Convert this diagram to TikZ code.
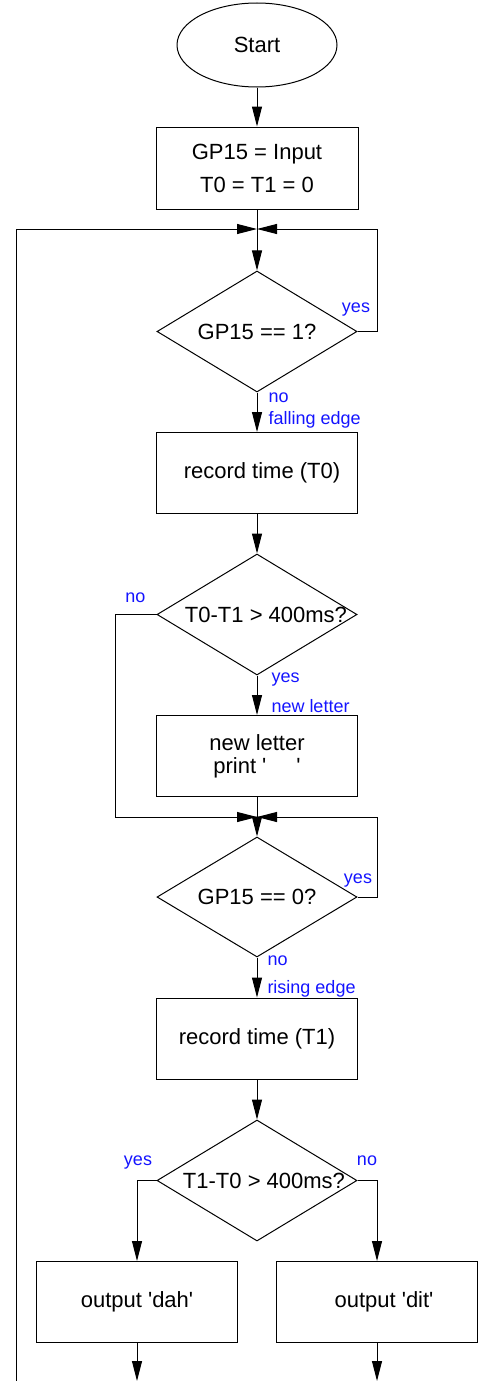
\documentclass[tikz,border=0pt]{standalone}
\usepackage{fontspec}
\setmainfont{Liberation Sans}[Ligatures=TeXOff]
\usetikzlibrary{shapes.geometric,arrows.meta}
\definecolor{lblue}{RGB}{20,20,255}
\begin{document}
\begin{tikzpicture}[x=1pt,y=-1pt,
  line width=1pt,
  font=\fontsize{22}{26}\selectfont,
  proc/.style={draw, rectangle, minimum width=201pt, minimum height=81pt, inner sep=0pt, align=center},
  dec/.style={draw, diamond, minimum width=200pt, minimum height=121pt, inner sep=0pt, aspect=1.65},
  lbl/.style={text=lblue, font=\fontsize{18}{20}\selectfont, inner sep=0pt},
  arr/.style={-{Triangle[length=20pt,width=10pt]}},
]
\useasboundingbox (0,0) rectangle (487,1381);

% nodes
\node[draw, ellipse, minimum width=160pt, minimum height=84pt, inner sep=0pt] (start) at (257,45) {Start};
\node[proc, minimum width=202pt, minimum height=82pt] (init) at (257,168) {GP15 = Input\\[7pt]T0 = T1 = 0};
\coordinate (j1) at (257,229);
\node[dec] (d1) at (257,331.5) {GP15 == 1?};
\node[proc] (rec0) at (257,473) {\hspace*{10pt}record time (T0)};
\node[dec, label={[xshift=9pt]center:T0-T1 > 400ms?}] (d2) at (257,614.5) {};
\node[proc] (nl) at (257,756) {new letter\\[-3pt]print '\hspace{30pt}'};
\coordinate (j2) at (257,817);
\node[dec, minimum height=120pt] (d3) at (257,897) {GP15 == 0?};
\node[proc] (rec1) at (257,1038.5) {record time (T1)};
\node[dec, label={[xshift=7pt]center:T1-T0 > 400ms?}] (d4) at (257,1180.5) {};
\node[proc] (dah) at (137,1302) {output 'dah'};
\node[proc] (dit) at (377,1302) {\hspace*{14pt}output 'dit'};
\coordinate (dahend) at (137,1381);
\coordinate (ditend) at (377,1381);
\coordinate (loopstart) at (16,1381);

% labels
\node[lbl] (yes1) at (356,310) {yes};
\node[lbl, anchor=west] (no1) at (268,398) {no};
\node[lbl, anchor=west] (fe) at (268,420) {falling edge};
\node[lbl] (no2) at (135.5,597.5) {no};
\node[lbl, anchor=west] (yes2) at (271,679.5) {yes};
\node[lbl, anchor=west] (nlab) at (271,706.5) {new letter};
\node[lbl] (yes3) at (358,880.5) {yes};
\node[lbl, anchor=west] (no3) at (267,961) {no};
\node[lbl, anchor=west] (re) at (267,989) {rising edge};
\node[lbl] (yes4) at (138,1163) {yes};
\node[lbl] (no4) at (367,1160.5) {no};

% connectors
\draw[arr] (start) -- (init);
\draw (init) -- (j1);
\draw[arr] (j1) -- (d1);
\draw[arr] (loopstart) |- (j1);
\draw[arr] (d1.east) -- ++(20,0) |- (j1);
\draw[arr] (d1) -- (rec0);
\draw[arr] (rec0) -- (d2);
\draw[arr] (d2) -- (nl);
\draw (nl) -- (j2);
\draw[arr] (d2.west) -- ++(-41,0) |- (j2);
\draw[arr] (d3.east) -- ++(20,0) |- (j2);
\draw[arr] (j2) -- (d3);
\draw[arr] (d3) -- (rec1);
\draw[arr] (rec1) -- (d4);
\draw[arr] (d4.west) -| (dah);
\draw[arr] (d4.east) -| (dit);
\draw[arr] (dah) -- (dahend);
\draw[arr] (dit) -- (ditend);
\end{tikzpicture}
\end{document}
